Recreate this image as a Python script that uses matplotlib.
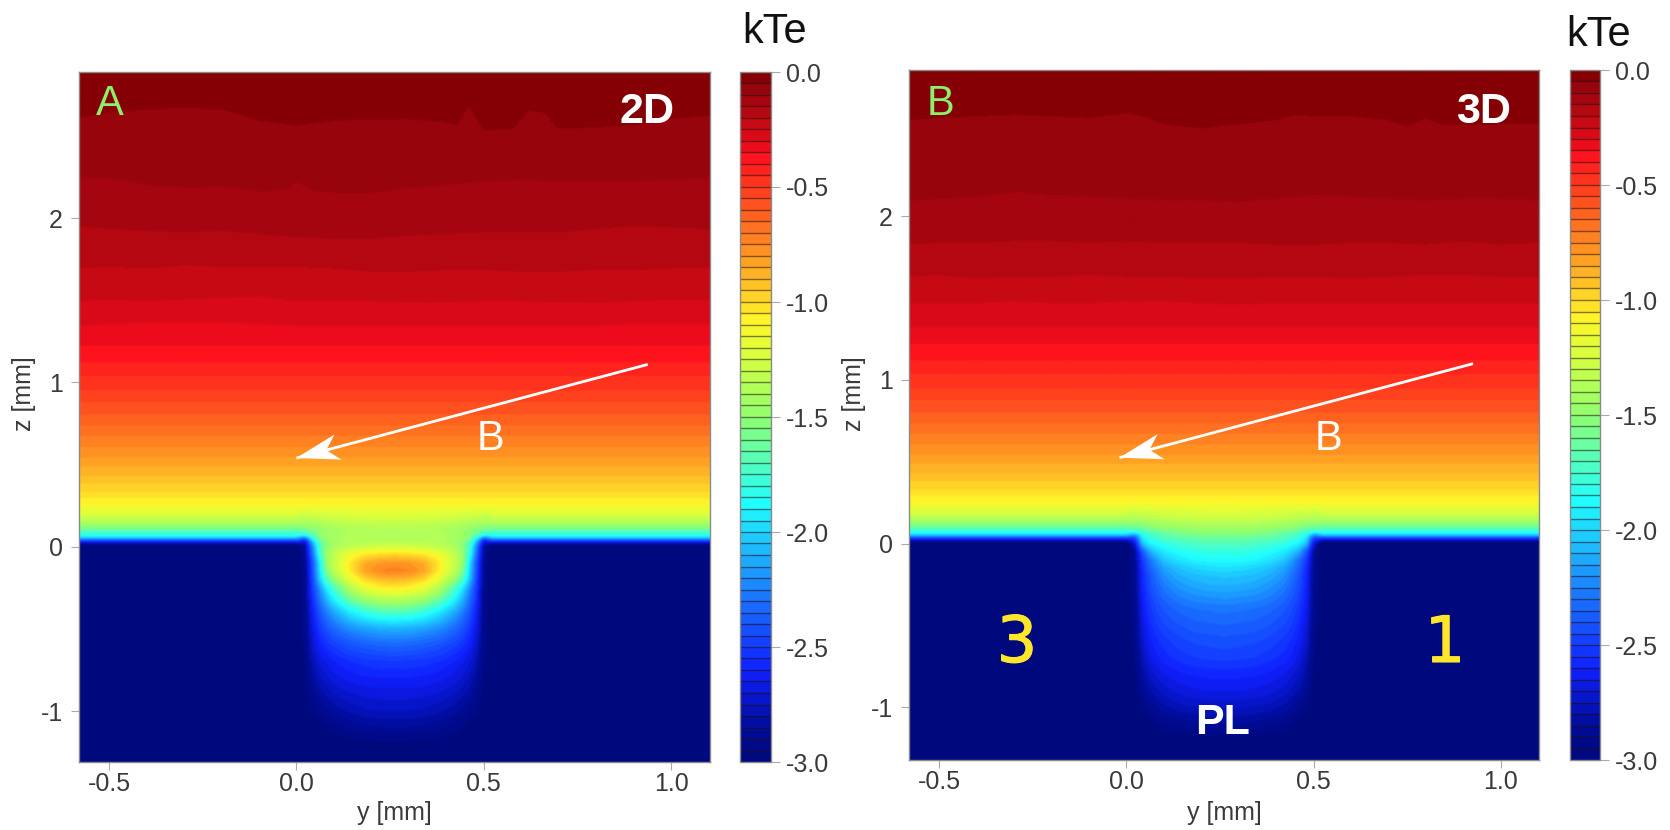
import numpy as np
import matplotlib
matplotlib.use("Agg")
from matplotlib import pyplot as plt
from matplotlib.cm import ScalarMappable
from matplotlib.colors import LinearSegmentedColormap, ListedColormap, BoundaryNorm
from matplotlib.patches import Polygon
from matplotlib.transforms import IdentityTransform
import matplotlib.patheffects as pe

plt.rcParams['font.family'] = ['Liberation Sans', 'DejaVu Sans']
plt.rcParams['axes.unicode_minus'] = False

W, H = 1670, 830

# colour scale
cmap_values = [-3.0, -2.85, -2.6, -2.3, -1.87, -1.5, -1.2, -1.08, -0.75, -0.5, -0.375,
               -0.325, -0.275, -0.225, -0.175, -0.125, -0.075, -0.025, 0.0]
cmap_colors = ['#00087a', '#000c98', '#1020ff', '#1a70ff', '#20ffff', '#90ff70', '#e0ff38',
               '#fff52a', '#ff8a22', '#ff3a1e', '#ff141e', '#ec0c1c', '#da0a18', '#c80a14',
               '#b50812', '#a5050f', '#98050c', '#840005', '#840005']

bar_ticks = [0.0, -0.5, -1.0, -1.5, -2.0, -2.5, -3.0]
y_ticks = [-0.5, 0.0, 0.5, 1.0]
z_ticks = [-1, 0, 1, 2]

# kTe at height z far from the plate gap (below the wavy top bands)
profile_kte = [-3.0, -2.6, -1.9, -1.5, -1.3, -1.2, -1.1, -1.0, -0.9, -0.8, -0.7, -0.6, -0.5, -0.4, -0.35]
profile_z = [0.005, 0.027, 0.058, 0.12, 0.17, 0.20, 0.25, 0.33, 0.43, 0.54, 0.67, 0.8, 0.95, 1.12, 1.22]

# wavy band edges in the upper part, kTe = -0.05 ... -0.30
edge_levels = [-0.05, -0.10, -0.15, -0.20, -0.25, -0.30]
edge_y = [-0.6, -0.5, -0.4, -0.3, -0.2, -0.1, 0.0, 0.1, 0.2, 0.3, 0.4, 0.5, 0.6, 0.7, 0.8, 0.9, 1.0, 1.1]

a_edge1_y = [-0.6, -0.5, -0.4, -0.3, -0.2, -0.1, 0.0, 0.1, 0.2, 0.3, 0.4, 0.43, 0.46, 0.5, 0.58, 0.62, 0.66, 0.7, 0.8, 0.9, 1.0, 1.1]
a_edge1_z = [2.60, 2.64, 2.66, 2.67, 2.66, 2.59, 2.56, 2.59, 2.60, 2.60, 2.58, 2.56, 2.68, 2.53, 2.54, 2.65, 2.64, 2.54, 2.55, 2.56, 2.60, 2.62]
a_edge2_y = [-0.6, -0.5, -0.4, -0.3, -0.2, -0.1, -0.02, 0.0, 0.05, 0.1, 0.2, 0.3, 0.4, 0.5, 0.6, 0.7, 0.8, 0.9, 1.0, 1.1]
a_edge2_z = [2.25, 2.24, 2.20, 2.18, 2.19, 2.16, 2.17, 2.22, 2.16, 2.15, 2.15, 2.18, 2.20, 2.22, 2.23, 2.22, 2.22, 2.22, 2.23, 2.24]
a_edge3_z = [1.95, 1.93, 1.92, 1.91, 1.92, 1.90, 1.88, 1.87, 1.87, 1.89, 1.90, 1.91, 1.91, 1.91, 1.93, 1.95, 1.94, 1.93]
a_edge4_z = [1.69, 1.70, 1.69, 1.71, 1.70, 1.70, 1.70, 1.69, 1.67, 1.67, 1.68, 1.68, 1.67, 1.67, 1.68, 1.68, 1.69, 1.69]
a_edge5_z = [1.49, 1.50, 1.49, 1.50, 1.51, 1.52, 1.49, 1.49, 1.49, 1.48, 1.48, 1.49, 1.49, 1.48, 1.48, 1.49, 1.50, 1.50]
a_edge6_z = [1.34, 1.35, 1.36, 1.36, 1.36, 1.35, 1.34, 1.34, 1.34, 1.34, 1.34, 1.34, 1.34, 1.34, 1.34, 1.35, 1.35, 1.35]

b_edge1_y = [-0.6, -0.5, -0.4, -0.3, -0.2, -0.1, 0.0, 0.05, 0.1, 0.2, 0.3, 0.4, 0.45, 0.5, 0.6, 0.7, 0.75, 0.8, 0.85, 1.0, 1.1]
b_edge1_z = [2.585, 2.605, 2.615, 2.625, 2.615, 2.605, 2.635, 2.61, 2.565, 2.54, 2.565, 2.59, 2.625, 2.615, 2.615, 2.59, 2.55, 2.60, 2.56, 2.565, 2.57]
b_edge2_z = [2.09, 2.11, 2.12, 2.15, 2.13, 2.12, 2.11, 2.10, 2.10, 2.09, 2.11, 2.13, 2.12, 2.11, 2.10, 2.11, 2.11, 2.10]
b_edge3_z = [1.83, 1.84, 1.84, 1.85, 1.85, 1.84, 1.85, 1.84, 1.84, 1.84, 1.83, 1.83, 1.84, 1.84, 1.83, 1.85, 1.83, 1.84]
b_edge4_z = [1.63, 1.64, 1.62, 1.63, 1.63, 1.64, 1.63, 1.63, 1.62, 1.62, 1.63, 1.63, 1.62, 1.63, 1.64, 1.64, 1.63, 1.63]
b_edge5_z = [1.47, 1.47, 1.47, 1.48, 1.47, 1.47, 1.48, 1.48, 1.47, 1.46, 1.47, 1.47, 1.47, 1.47, 1.47, 1.47, 1.47, 1.47]
b_edge6_z = [1.32, 1.32, 1.32, 1.32, 1.32, 1.32, 1.32, 1.32, 1.32, 1.32, 1.32, 1.32, 1.32, 1.32, 1.32, 1.32, 1.32, 1.32]

# kTe inside the gap, by height and distance from the gap centre
gap_center = 0.262
gap_d = [0.0, 0.04, 0.08, 0.12, 0.16, 0.18, 0.20, 0.22, 0.24, 0.26]
gap_z = [-1.31, -1.2, -1.1, -1.0, -0.9, -0.8, -0.7, -0.6, -0.5, -0.4, -0.3, -0.26, -0.2, -0.15, -0.1, -0.05, 0.0, 0.03, 0.05, 0.07, 0.10, 0.15, 0.25]
gap_a = [
    [-3.0, -3.0, -3.0, -3.0, -3.0, -3.0, -3.0, -3.0, -3.0, -3.0],
    [-2.96, -2.96, -2.97, -2.98, -3.0, -3.0, -3.0, -3.0, -3.0, -3.0],
    [-2.85, -2.85, -2.86, -2.88, -2.92, -2.95, -2.98, -3.0, -3.0, -3.0],
    [-2.75, -2.75, -2.76, -2.79, -2.83, -2.86, -2.9, -2.94, -2.99, -3.0],
    [-2.68, -2.68, -2.69, -2.71, -2.75, -2.79, -2.83, -2.9, -2.97, -3.0],
    [-2.6, -2.6, -2.61, -2.63, -2.67, -2.71, -2.76, -2.85, -2.96, -3.0],
    [-2.5, -2.51, -2.52, -2.55, -2.6, -2.64, -2.69, -2.79, -2.95, -3.0],
    [-2.33, -2.34, -2.37, -2.41, -2.48, -2.53, -2.6, -2.73, -2.93, -3.0],
    [-2.1, -2.11, -2.15, -2.21, -2.32, -2.4, -2.51, -2.68, -2.92, -3.0],
    [-1.7, -1.72, -1.8, -1.93, -2.12, -2.24, -2.4, -2.62, -2.92, -3.0],
    [-1.25, -1.28, -1.36, -1.53, -1.82, -2.02, -2.26, -2.55, -2.92, -3.0],
    [-1.08, -1.11, -1.2, -1.4, -1.72, -1.92, -2.2, -2.52, -2.92, -3.0],
    [-0.88, -0.9, -0.99, -1.18, -1.47, -1.68, -2.02, -2.47, -2.92, -3.0],
    [-0.72, -0.74, -0.83, -1.06, -1.32, -1.52, -1.96, -2.44, -2.92, -3.0],
    [-0.78, -0.8, -0.86, -1.05, -1.3, -1.44, -1.92, -2.42, -2.9, -3.0],
    [-0.98, -1.0, -1.04, -1.13, -1.31, -1.43, -1.78, -2.33, -2.88, -3.0],
    [-1.26, -1.27, -1.29, -1.33, -1.4, -1.5, -1.72, -2.25, -2.85, -3.0],
    [-1.35, -1.35, -1.36, -1.38, -1.42, -1.5, -1.65, -2.05, -2.7, -3.0],
    [-1.38, -1.38, -1.38, -1.38, -1.42, -1.45, -1.55, -1.85, -2.3, -2.65],
    [-1.38, -1.38, -1.38, -1.38, -1.4, -1.42, -1.5, -1.65, -1.8, -1.85],
    [-1.38, -1.38, -1.39, -1.4, -1.43, -1.46, -1.5, -1.55, -1.6, -1.62],
    [-1.28, -1.28, -1.29, -1.3, -1.32, -1.34, -1.36, -1.37, -1.38, -1.38],
    [-1.1, -1.1, -1.1, -1.1, -1.1, -1.1, -1.1, -1.1, -1.1, -1.1],
]
gap_b = [
    [-3.0, -3.0, -3.0, -3.0, -3.0, -3.0, -3.0, -3.0, -3.0, -3.0],
    [-2.97, -2.97, -2.98, -2.99, -3.0, -3.0, -3.0, -3.0, -3.0, -3.0],
    [-2.85, -2.85, -2.86, -2.88, -2.91, -2.94, -2.97, -3.0, -3.0, -3.0],
    [-2.74, -2.74, -2.75, -2.77, -2.81, -2.85, -2.89, -2.95, -3.0, -3.0],
    [-2.65, -2.65, -2.66, -2.68, -2.72, -2.76, -2.81, -2.88, -2.98, -3.0],
    [-2.58, -2.58, -2.59, -2.61, -2.65, -2.69, -2.74, -2.83, -2.97, -3.0],
    [-2.48, -2.49, -2.5, -2.53, -2.57, -2.61, -2.67, -2.78, -2.95, -3.0],
    [-2.42, -2.43, -2.44, -2.47, -2.52, -2.56, -2.62, -2.73, -2.93, -3.0],
    [-2.35, -2.36, -2.37, -2.4, -2.45, -2.5, -2.57, -2.69, -2.92, -3.0],
    [-2.28, -2.29, -2.3, -2.33, -2.39, -2.44, -2.52, -2.65, -2.91, -3.0],
    [-2.15, -2.16, -2.18, -2.22, -2.3, -2.37, -2.46, -2.61, -2.9, -3.0],
    [-2.1, -2.11, -2.13, -2.18, -2.26, -2.34, -2.44, -2.6, -2.9, -3.0],
    [-2.04, -2.05, -2.07, -2.11, -2.2, -2.29, -2.41, -2.58, -2.9, -3.0],
    [-1.96, -1.97, -2.0, -2.05, -2.14, -2.24, -2.36, -2.56, -2.89, -3.0],
    [-1.87, -1.87, -1.89, -1.94, -2.03, -2.15, -2.3, -2.5, -2.88, -3.0],
    [-1.8, -1.8, -1.82, -1.86, -1.93, -2.0, -2.12, -2.4, -2.87, -3.0],
    [-1.7, -1.7, -1.72, -1.75, -1.8, -1.85, -1.9, -2.05, -2.7, -3.0],
    [-1.62, -1.62, -1.64, -1.67, -1.72, -1.76, -1.82, -1.95, -2.5, -3.0],
    [-1.56, -1.56, -1.58, -1.61, -1.66, -1.7, -1.76, -1.88, -2.2, -2.65],
    [-1.5, -1.5, -1.52, -1.55, -1.6, -1.63, -1.68, -1.75, -1.82, -1.85],
    [-1.42, -1.42, -1.43, -1.45, -1.48, -1.5, -1.53, -1.57, -1.6, -1.62],
    [-1.28, -1.28, -1.29, -1.3, -1.32, -1.34, -1.36, -1.37, -1.38, -1.38],
    [-1.1, -1.1, -1.1, -1.1, -1.1, -1.1, -1.1, -1.1, -1.1, -1.1],
]


def px_rect(left, right, top, bottom):
    return [left / W, 1 - bottom / H, (right - left) / W, (bottom - top) / H]


def px_text(x, y, s, **kw):
    kw.setdefault('ha', 'center')
    kw.setdefault('va', 'center')
    fig.text(x / W, 1 - y / H, s, **kw)


def soften(a):
    # small blur, the source picture is a bit soft
    kernel = np.array([1, 2, 1]) / 4
    for axis in (0, 1):
        p = [(0, 0), (0, 0)]
        p[axis] = (1, 1)
        a = np.apply_along_axis(lambda v: np.convolve(v, kernel, mode='valid'), axis, np.pad(a, p, mode='edge'))
    return a


def build_field(yy, zz, edges, gap):
    field = np.zeros((len(zz), len(yy)))
    for j, y in enumerate(yy):
        tops = [np.interp(y, ey, ez) for ey, ez in edges]
        heights = profile_z + tops[::-1] + [3.2]
        values = profile_kte + edge_levels[::-1] + [0.0]
        field[:, j] = np.interp(zz, heights, values)
    gap = np.array(gap)
    # the outer column of the gap table has to meet the plain profile
    gap[:, -1] = np.interp(gap_z, profile_z, profile_kte)
    rows = np.array([np.interp(np.abs(yy - gap_center), gap_d, row) for row in gap])
    in_gap = np.array([np.interp(zz, gap_z, rows[:, j]) for j in range(len(yy))]).T
    mask = (np.abs(yy - gap_center)[None, :] <= gap_d[-1]) & (zz[:, None] <= gap_z[-1])
    field[mask] = in_gap[mask]
    field = np.clip(soften(soften(field)), -2.999, -0.001)
    # 60 flat bands of 0.05, then softened a little like the source
    bands = np.floor(field / 0.05) * 0.05 + 0.025
    return soften(bands)


def draw_arrow(ax, tail, tip):
    # white stealth arrow, drawn in pixels so its head keeps its shape
    t0 = ax.transData.transform(tail)
    t1 = ax.transData.transform(tip)
    u = (t1 - t0) / np.hypot(*(t1 - t0))
    n = np.array([-u[1], u[0]])
    ax.plot([tail[0], tip[0]], [tail[1], tip[1]], color='white', lw=2.0, solid_capstyle='butt', zorder=4)
    pts = [t1, t1 - 43 * u + 13 * n, t1 - 31 * u, t1 - 43 * u - 13 * n]
    ax.add_patch(Polygon(pts, closed=True, fc='white', ec='none', transform=IdentityTransform(), zorder=5))


fig = plt.figure(figsize=(W / 100, H / 100), dpi=100, facecolor='white')

pos = [v / 3.0 + 1.0 for v in cmap_values]
cmap = LinearSegmentedColormap.from_list('kte', list(zip(pos, cmap_colors)), N=1024)
levels = np.linspace(-3, 0, 61)
band_mids = (levels[:-1] + levels[1:]) / 2
bar_cmap = ListedColormap(cmap((band_mids + 3) / 3))
bar_norm = BoundaryNorm(levels, 60)

yy = np.linspace(-0.6, 1.12, 660)
zz = np.linspace(-1.33, 2.92, 720)

panels = [
    dict(rect=(79, 710, 72, 762), bar=(740, 771, 72, 762), ylim=(-1.31, 2.89), xlim=(-0.58, 1.104),
         edges=[(a_edge1_y, a_edge1_z), (a_edge2_y, a_edge2_z), (edge_y, a_edge3_z), (edge_y, a_edge4_z),
                (edge_y, a_edge5_z), (edge_y, a_edge6_z)],
         gap=gap_a, tail=(0.938, 1.11), tip=(0.0, 0.54)),
    dict(rect=(909, 1539, 70, 760), bar=(1570, 1600, 70, 760), ylim=(-1.323, 2.895), xlim=(-0.58, 1.102),
         edges=[(b_edge1_y, b_edge1_z), (edge_y, b_edge2_z), (edge_y, b_edge3_z), (edge_y, b_edge4_z),
                (edge_y, b_edge5_z), (edge_y, b_edge6_z)],
         gap=gap_b, tail=(0.926, 1.10), tip=(-0.018, 0.525)),
]

tick_size = 18
for p in panels:
    ax = fig.add_axes(px_rect(*p['rect']))
    field = build_field(yy, zz, p['edges'], p['gap'])
    ax.imshow(field, origin='lower', extent=(yy[0], yy[-1], zz[0], zz[-1]), aspect='auto',
              cmap=cmap, vmin=-3, vmax=0, interpolation='bilinear')
    ax.set_xlim(*p['xlim'])
    ax.set_ylim(*p['ylim'])
    ax.set_xticks(y_ticks)
    ax.set_xticklabels(['%.1f' % v for v in y_ticks])
    ax.set_yticks(z_ticks)
    ax.tick_params(axis='x', length=5.5, width=0.8, color='#aaaaaa', labelcolor='#3a3a3a', labelsize=tick_size, pad=2)
    ax.tick_params(axis='y', length=5.5, width=0.8, color='#aaaaaa', labelcolor='#3a3a3a', labelsize=tick_size, pad=6)
    for s in ax.spines.values():
        s.set_color('#8a8a8a')
        s.set_linewidth(1.0)
    draw_arrow(ax, p['tail'], p['tip'])

    cax = fig.add_axes(px_rect(*p['bar']))
    sm = ScalarMappable(norm=bar_norm, cmap=bar_cmap)
    cb = fig.colorbar(sm, cax=cax, ticks=bar_ticks, drawedges=True, spacing='proportional')
    cb.set_ticklabels(['%.1f' % v for v in bar_ticks])
    cb.minorticks_off()
    cb.ax.tick_params(length=6.5, width=0.8, color='#aaaaaa', labelcolor='#3a3a3a', labelsize=tick_size, pad=4)
    cb.dividers.set_color('#201010')
    cb.dividers.set_linewidth(1.0)
    cb.dividers.set_alpha(0.55)
    cb.outline.set_edgecolor('#8a8a8a')
    cb.outline.set_linewidth(1.0)

grey = '#3a3a3a'
px_text(394, 813, 'y [mm]', fontsize=18, color=grey)
px_text(1224, 813, 'y [mm]', fontsize=18, color=grey)
px_text(24, 394, 'z [mm]', fontsize=18, color=grey, rotation=90)
px_text(854, 394, 'z [mm]', fontsize=18, color=grey, rotation=90)

px_text(775, 32, 'kTe', fontsize=30, color='#111111')
px_text(1599, 35, 'kTe', fontsize=30, color='#111111')

green = '#8cf06a'
px_text(110, 104, 'A', fontsize=30, color=green)
px_text(941, 104, 'B', fontsize=30, color=green)
px_text(647, 112, '2D', fontsize=31, color='white', fontweight='bold')
px_text(1483, 112, '3D', fontsize=31, color='white', fontweight='bold')
px_text(491, 439, 'B', fontsize=30, color='white')
px_text(1328, 439, 'B', fontsize=30, color='white')
thick = [pe.withStroke(linewidth=0.8, foreground='#ffe62a')]
px_text(1017, 644, '3', fontsize=46, color='#ffe62a', family='DejaVu Sans', path_effects=thick)
px_text(1445, 644, '1', fontsize=46, color='#ffe62a', family='DejaVu Sans', path_effects=thick)
px_text(1223, 723, 'PL', fontsize=31, color='white', fontweight='bold')

fig.savefig('out.png', dpi=100)
